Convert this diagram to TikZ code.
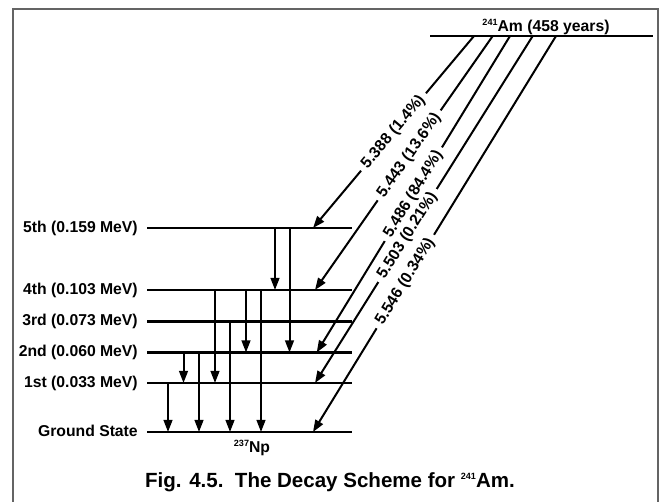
\documentclass[tikz,border=0pt]{standalone}
\usepackage{fontspec}
\setmainfont{Liberation Sans}
\usepackage{tikz}
\usetikzlibrary{arrows.meta}
\definecolor{framegray}{RGB}{100,100,100}
\newcommand{\iso}[2]{\raisebox{0.75ex}{\fontsize{6.8}{7}\selectfont #1}#2}
\tikzset{
  level/.style={line width=1.75pt},
  levlabel/.style={anchor=base east, inner sep=0pt, yshift=-3.2pt,
    font=\fontsize{11.8}{14}\selectfont\bfseries},
  gam/.style={line width=1.5pt, -{Triangle[length=9pt, width=6.5pt]}},
  alf/.style={line width=1.5pt, -{Triangle[length=9pt, width=6.5pt]}},
  alflabel/.style={sloped, fill=white, inner xsep=4pt, inner ysep=1.5pt,
    font=\fontsize{11.8}{14}\selectfont\bfseries},
  txt/.style={anchor=base, inner sep=0pt, font=\fontsize{11.8}{14}\selectfont\bfseries}
}

\begin{document}
\begin{tikzpicture}[x=0.75pt, y=-0.75pt]
  \useasboundingbox (0,0) rectangle (661,502);
  \draw[framegray, line width=1.5pt] (12.5,502) -- (12.5,9.3) -- (658,9.3) -- (658,502);

  % Levels
  \coordinate (am) at (430,36);
  \coordinate (amr) at (653,36);
  \draw[level] (am) -- (amr);
  \node[txt] (amlab) at (546,32) {\iso{241}{Am} (458 years)};

  \foreach \n/\y/\lab in {5/228/{5th (0.159 MeV)}, 4/290/{4th (0.103 MeV)},
      3/321.5/{3rd (0.073 MeV)}, 2/352.5/{2nd (0.060 MeV)},
      1/383/{1st (0.033 MeV)}, 0/432/{Ground State}} {
    \coordinate (g\n) at (147,\y);
    \coordinate (g\n r) at (352,\y);
    \draw[level] (g\n) -- (g\n r);
    \node[levlabel] (t\n) at (138,\y) {\lab};
  }
  \node[txt] (np) at (252,452.5) {\iso{237}{Np}};

  % Gamma transitions
  \foreach \x/\a/\b in {275/5/4, 289.5/5/2, 215/4/1, 246/4/2, 261/4/0,
      230/3/0, 183.5/2/1, 199/2/0, 168/1/0}
    \draw[gam] (\x,0 |- g\a) -- (\x,0 |- g\b);

  % Alpha transitions
  \foreach \s/\e/\t/\p/\lab in {474/313/5/0.50/{5.388 (1.4\%)},
      492.7/315/4/0.47/{5.443 (13.6\%)}, 510/316.7/2/0.50/{5.486 (84.4\%)},
      532.7/315/1/0.575/{5.503 (0.21\%)}, 556/313/0/0.62/{5.546 (0.34\%)}}
    \draw[alf] (\s,0 |- am) -- (\e,0 |- g\t) node[alflabel, pos=\p] {\lab};

  \node[anchor=base, inner sep=0pt, font=\fontsize{15.4}{18}\selectfont\bfseries] (cap)
    at (330,488) {Fig. 4.5.\ \ The Decay Scheme for \iso{241}{Am}.};
\end{tikzpicture}
\end{document}
